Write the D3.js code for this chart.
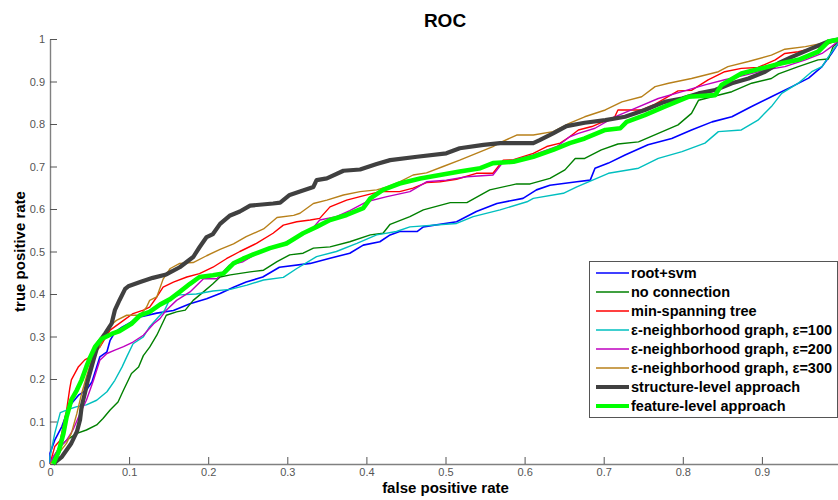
<!DOCTYPE html>
<html>
<head>
<meta charset="utf-8">
<script src="https://cdn.jsdelivr.net/npm/d3@7"></script>
<style>
  body { margin: 0; background: #fff; }
  text { font-family: "Liberation Sans", Arial, sans-serif; }
</style>
</head>
<body>
<div id="roc"></div>
<script>
// ROC points: [false positive rate, true positive rate]
var rootSvm = [[0,0],[0,.025],[.006,.056],[.015,.088],[.021,.119],[.027,.142],[.036,.162],[.046,.174],[.053,.193],[.059,.228],[.063,.252],[.072,.264],[.076,.291],[.082,.31],[.091,.322],[.099,.33],[.114,.346],[.135,.355],[.156,.361],[.177,.377],[.198,.389],[.215,.401],[.232,.416],[.248,.428],[.269,.44],[.29,.463],[.329,.472],[.354,.484],[.379,.496],[.396,.515],[.417,.523],[.43,.539],[.442,.547],[.464,.547],[.472,.558],[.514,.57],[.539,.594],[.565,.613],[.598,.625],[.615,.645],[.632,.656],[.666,.664],[.683,.668],[.689,.696],[.706,.708],[.727,.727],[.756,.751],[.786,.766],[.811,.786],[.837,.805],[.862,.817],[.887,.841],[.912,.864],[.938,.888],[.959,.908],[.976,.935],[.988,.966],[1,1]];

var noConnection = [[0,0],[.011,.037],[.021,.056],[.034,.072],[.046,.08],[.059,.092],[.067,.107],[.076,.127],[.086,.146],[.093,.174],[.103,.213],[.112,.228],[.118,.255],[.126,.275],[.135,.303],[.147,.35],[.16,.358],[.171,.362],[.181,.385],[.194,.405],[.206,.424],[.215,.44],[.228,.445],[.253,.452],[.27,.456],[.287,.476],[.303,.492],[.32,.496],[.333,.508],[.354,.511],[.379,.523],[.405,.539],[.421,.543],[.43,.564],[.455,.582],[.472,.598],[.506,.615],[.527,.615],[.556,.645],[.59,.659],[.607,.659],[.632,.672],[.651,.692],[.664,.719],[.676,.719],[.697,.739],[.718,.753],[.744,.758],[.769,.778],[.794,.798],[.811,.825],[.82,.856],[.837,.864],[.862,.876],[.887,.896],[.912,.907],[.921,.918],[.946,.935],[.971,.951],[.984,.953],[.99,.982],[1,1]];

var minSpanningTree = [[0,0],[.006,.041],[.013,.056],[.021,.127],[.025,.178],[.027,.198],[.036,.229],[.044,.245],[.051,.252],[.063,.275],[.076,.315],[.093,.338],[.105,.354],[.118,.362],[.126,.369],[.135,.393],[.143,.416],[.156,.428],[.173,.44],[.189,.448],[.206,.463],[.223,.483],[.24,.5],[.261,.519],[.282,.543],[.295,.562],[.312,.57],[.329,.574],[.341,.578],[.354,.605],[.375,.621],[.392,.629],[.417,.641],[.442,.641],[.459,.649],[.476,.662],[.493,.664],[.514,.67],[.539,.684],[.56,.684],[.573,.715],[.586,.716],[.611,.731],[.628,.747],[.645,.755],[.657,.77],[.668,.786],[.685,.794],[.714,.817],[.718,.833],[.748,.833],[.765,.847],[.794,.878],[.811,.879],[.832,.904],[.853,.923],[.874,.931],[.895,.933],[.917,.951],[.929,.966],[.946,.97],[.963,.978],[.98,.986],[1,1]];

var eps100 = [[0,0],[0,.017],[.006,.072],[.013,.121],[.021,.127],[.034,.135],[.046,.139],[.059,.15],[.072,.17],[.082,.197],[.091,.228],[.097,.252],[.105,.283],[.118,.299],[.126,.323],[.137,.346],[.145,.362],[.152,.39],[.164,.398],[.185,.4],[.206,.407],[.228,.411],[.249,.421],[.27,.433],[.295,.439],[.312,.46],[.337,.488],[.362,.5],[.388,.519],[.413,.539],[.438,.547],[.455,.558],[.514,.566],[.535,.582],[.569,.598],[.603,.617],[.611,.625],[.649,.637],[.666,.652],[.706,.684],[.744,.696],[.769,.719],[.799,.735],[.828,.755],[.845,.782],[.874,.786],[.895,.809],[.912,.841],[.925,.872],[.946,.896],[.963,.923],[.976,.935],[.984,.958],[1,1]];

var eps200 = [[0,0],[.004,.017],[.013,.041],[.021,.056],[.029,.08],[.038,.119],[.046,.15],[.055,.197],[.063,.244],[.072,.26],[.082,.268],[.093,.276],[.105,.287],[.118,.303],[.131,.33],[.139,.342],[.147,.362],[.16,.385],[.177,.405],[.194,.436],[.211,.436],[.227,.468],[.244,.476],[.257,.49],[.269,.502],[.287,.511],[.303,.527],[.329,.548],[.341,.574],[.362,.582],[.379,.596],[.4,.617],[.426,.629],[.455,.641],[.476,.664],[.501,.668],[.527,.676],[.56,.68],[.573,.711],[.586,.715],[.611,.727],[.641,.747],[.657,.77],[.668,.778],[.689,.79],[.714,.817],[.735,.833],[.769,.86],[.799,.876],[.828,.892],[.853,.904],[.879,.915],[.904,.927],[.929,.935],[.955,.951],[.976,.966],[.988,.982],[1,1]];

var eps300 = [[0,0],[.011,.025],[.021,.049],[.027,.072],[.034,.119],[.04,.166],[.046,.205],[.055,.26],[.063,.275],[.074,.322],[.084,.338],[.097,.35],[.114,.35],[.122,.369],[.126,.385],[.135,.393],[.143,.435],[.152,.46],[.164,.472],[.181,.474],[.198,.49],[.215,.505],[.232,.518],[.248,.535],[.27,.553],[.287,.58],[.308,.585],[.316,.59],[.333,.613],[.35,.621],[.371,.633],[.392,.641],[.413,.645],[.426,.652],[.442,.664],[.459,.68],[.476,.685],[.497,.7],[.518,.715],[.539,.731],[.56,.747],[.569,.756],[.59,.774],[.611,.774],[.636,.782],[.657,.802],[.676,.817],[.702,.833],[.723,.852],[.748,.864],[.765,.888],[.782,.896],[.811,.907],[.845,.923],[.857,.935],[.883,.947],[.912,.962],[.929,.976],[.955,.982],[.971,.988],[1,1]];

var structureLevel = [[.004,0],[.015,.017],[.027,.049],[.034,.076],[.038,.104],[.04,.135],[.044,.166],[.048,.198],[.055,.245],[.061,.284],[.07,.308],[.078,.331],[.082,.362],[.088,.386],[.095,.412],[.099,.418],[.114,.428],[.13,.438],[.147,.446],[.164,.463],[.181,.487],[.189,.51],[.198,.534],[.206,.541],[.215,.565],[.227,.584],[.24,.594],[.253,.608],[.282,.613],[.291,.615],[.303,.633],[.316,.641],[.333,.652],[.337,.668],[.35,.672],[.371,.69],[.392,.693],[.413,.706],[.43,.715],[.464,.723],[.501,.731],[.518,.743],[.548,.751],[.569,.755],[.611,.755],[.619,.762],[.636,.778],[.653,.795],[.676,.803],[.702,.809],[.727,.817],[.752,.833],[.777,.852],[.799,.86],[.82,.872],[.841,.88],[.862,.896],[.883,.907],[.904,.923],[.921,.943],[.938,.958],[.963,.978],[.984,.994],[1,1]];

var featureLevel = [[.004,0],[.011,.029],[.017,.072],[.021,.111],[.027,.151],[.034,.174],[.04,.198],[.046,.229],[.051,.252],[.057,.276],[.065,.294],[.078,.306],[.088,.313],[.103,.33],[.114,.35],[.126,.358],[.139,.375],[.152,.388],[.164,.405],[.177,.424],[.189,.44],[.206,.444],[.219,.448],[.232,.472],[.244,.483],[.257,.493],[.278,.508],[.299,.519],[.32,.543],[.337,.558],[.354,.574],[.375,.586],[.396,.602],[.405,.625],[.421,.645],[.442,.66],[.468,.672],[.493,.68],[.518,.688],[.544,.696],[.56,.708],[.586,.711],[.611,.723],[.636,.739],[.657,.755],[.676,.766],[.702,.786],[.721,.79],[.729,.805],[.752,.821],[.777,.841],[.807,.864],[.841,.868],[.849,.892],[.874,.919],[.9,.931],[.925,.943],[.946,.951],[.971,.97],[.984,.994],[1,1]];

var seriesNames = ["root+svm", "no connection", "min-spanning tree",
  "\u03b5-neighborhood graph, \u03b5=100", "\u03b5-neighborhood graph, \u03b5=200",
  "\u03b5-neighborhood graph, \u03b5=300", "structure-level approach", "feature-level approach"];
var seriesData = [rootSvm, noConnection, minSpanningTree, eps100, eps200, eps300, structureLevel, featureLevel];
var tickValues = [0, 0.1, 0.2, 0.3, 0.4, 0.5, 0.6, 0.7, 0.8, 0.9, 1];

// styles
var colors = ["#0000ff", "#008000", "#ff0000", "#00bfbf", "#bf00bf", "#b8801a", "#404040", "#00ff00"];
var widths = [1.6, 1.4, 1.4, 1.4, 1.4, 1.4, 4.2, 4.6];

var width = 838, height = 500;
var x0 = 50, x1 = 841, yTop = 39, yBot = 464;

var svg = d3.select("#roc").append("svg")
    .attr("width", width)
    .attr("height", height)
    .style("display", "block");

svg.append("rect").attr("width", width).attr("height", height).attr("fill", "#fff");

var x = d3.scaleLinear().domain([0, 1]).range([x0, x1]);
var y = d3.scaleLinear().domain([0, 1]).range([yBot, yTop]);

var fmt = function(d) { return d3.format("")(+d.toFixed(1)); };

// axes, MATLAB style: ticks pointing inward, no box
var xAxis = svg.append("g")
    .attr("transform", "translate(0," + yBot + ")")
    .call(d3.axisBottom(x).tickValues(tickValues).tickSizeInner(-7).tickSizeOuter(0).tickPadding(4).tickFormat(fmt));
var yAxis = svg.append("g")
    .attr("transform", "translate(" + x0 + ",0)")
    .call(d3.axisLeft(y).tickValues(tickValues).tickSizeInner(-7).tickSizeOuter(0).tickPadding(5).tickFormat(fmt));

[xAxis, yAxis].forEach(function(a) {
  a.select(".domain").attr("stroke", "#808080").attr("stroke-width", 1.4);
  a.selectAll(".tick line").attr("stroke", "#555").attr("stroke-width", 1);
  a.selectAll(".tick text")
    .attr("fill", "#555")
    .style("font-size", "11px")
    .style("font-family", "'Liberation Sans', Arial, sans-serif");
});
// the x label for 1 falls past the right edge of the page, as in the original
xAxis.selectAll(".tick text").filter(function(d) { return x(d) > width - 4; }).remove();

var line = d3.line()
    .x(function(d) { return x(d[0]); })
    .y(function(d) { return y(d[1]); });

var g_lines = svg.append("g");
g_lines.selectAll("path")
    .data(seriesData)
    .enter().append("path")
    .attr("d", line)
    .attr("fill", "none")
    .attr("stroke", function(d, i) { return colors[i]; })
    .attr("stroke-width", function(d, i) { return widths[i]; })
    .attr("stroke-linejoin", "round");

// title and axis labels
svg.append("text")
    .attr("x", 445).attr("y", 27)
    .attr("text-anchor", "middle")
    .style("font-size", "19px").style("font-weight", "bold")
    .text("ROC");

svg.append("text")
    .attr("x", (x0 + x1) / 2).attr("y", 493)
    .attr("text-anchor", "middle")
    .style("font-size", "15px").style("font-weight", "bold")
    .text("false positive rate");

svg.append("text")
    .attr("transform", "translate(25," + (yTop + yBot) / 2 + ") rotate(-90)")
    .attr("text-anchor", "middle")
    .style("font-size", "15px").style("font-weight", "bold")
    .text("true positive rate");

// legend
var legend = svg.append("g").attr("transform", "translate(589,261)");
legend.append("rect")
    .attr("x", 0.5).attr("y", 0.5)
    .attr("width", 248).attr("height", 156)
    .attr("fill", "#fff")
    .attr("stroke", "#555")
    .attr("stroke-width", 1);

var items = legend.selectAll("g.item")
    .data(seriesNames)
    .enter().append("g")
    .attr("class", "item")
    .attr("transform", function(d, i) { return "translate(0," + (12 + i * 19) + ")"; });

items.append("line")
    .attr("x1", 7).attr("x2", 40)
    .attr("stroke", function(d, i) { return colors[i]; })
    .attr("stroke-width", function(d, i) { return Math.min(widths[i], 4.2); });

items.append("text")
    .attr("x", 42)
    .attr("dy", "0.36em")
    .style("font-size", "14.5px").style("font-weight", "bold")
    .text(function(d) { return d; });
</script>
</body>
</html>
